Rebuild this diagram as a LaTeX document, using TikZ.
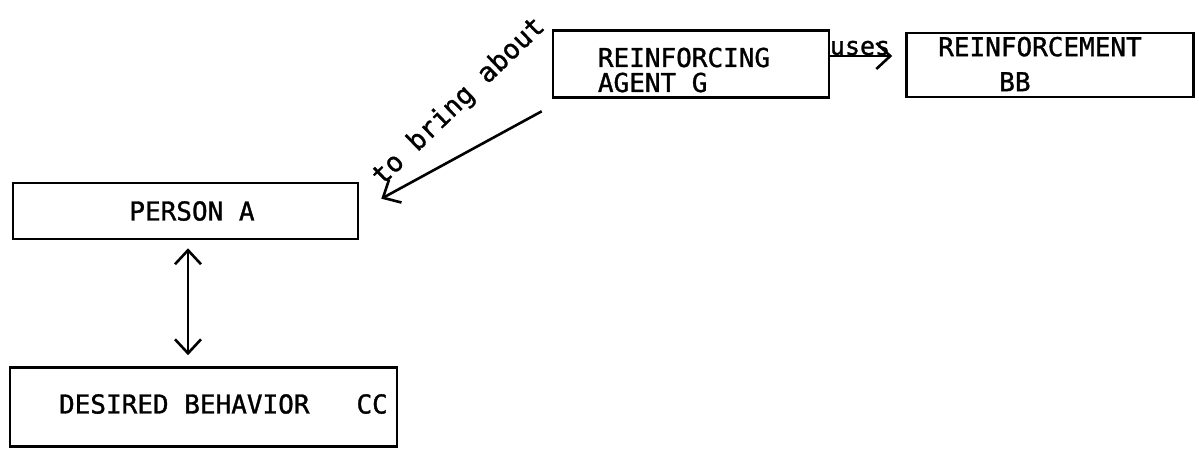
\documentclass[tikz,border=0pt]{standalone}
\usepackage{fontspec}
\setmonofont[FakeBold=1.2]{DejaVu Sans Mono}
\usetikzlibrary{arrows.meta}
\begin{document}
\begin{tikzpicture}[x=1pt,y=-1pt,
  box/.style={draw, line width=2.6pt, rectangle, inner sep=0pt},
  lbl/.style={font=\ttfamily\fontsize{26}{25}\selectfont, inner sep=0pt},
  arr/.style={line width=2.6pt, -{Straight Barb[length=14pt,width=26pt]}},
  darr/.style={line width=2.6pt, {Straight Barb[length=14pt,width=26pt]}-{Straight Barb[length=14pt,width=26pt]}},
]
\useasboundingbox (0,0) rectangle (1199,451);
% boxes
\node[box, minimum width=276pt, minimum height=67pt] (ag) at (691,64) {};
\node[lbl, align=left] (agt) at (684,70) {REINFORCING\\AGENT G};
\node[box, minimum width=287pt, minimum height=64pt] (bb) at (1050,65) {};
\node[lbl, align=left, font=\ttfamily\fontsize{26}{35}\selectfont] (bbt) at (1040,64) {REINFORCEMENT\\\hspace*{61pt}BB};
\node[box, minimum width=345pt, minimum height=56pt] (pa) at (185.5,211) {};
\node[lbl] (pat) at (192,211) {PERSON A};
\node[box, minimum width=387pt, minimum height=79pt] (cc) at (203.5,407) {};
\node[lbl, anchor=east] (cct) at (388,404) {DESIRED BEHAVIOR~~~CC};
% connectors
\draw[arr] ([shift={(0,-8)}]ag.east) -- ([shift={(-13,-9)}]bb.west);
\node[lbl, font=\ttfamily\fontsize{25}{25}\selectfont] (uses) at (860,48) {uses};
\draw[arr] ([shift={(-10,12.5)}]ag.south west) -- ([shift={(22,17)}]pa.north east);
\node[lbl, font=\ttfamily\fontsize{27}{27}\selectfont, rotate=44] (tba) at (459,102) {to bring about};
\draw[darr] ([shift={(2.5,8)}]pa.south) -- ([shift={(-15.5,-11)}]cc.north);
\end{tikzpicture}
\end{document}
